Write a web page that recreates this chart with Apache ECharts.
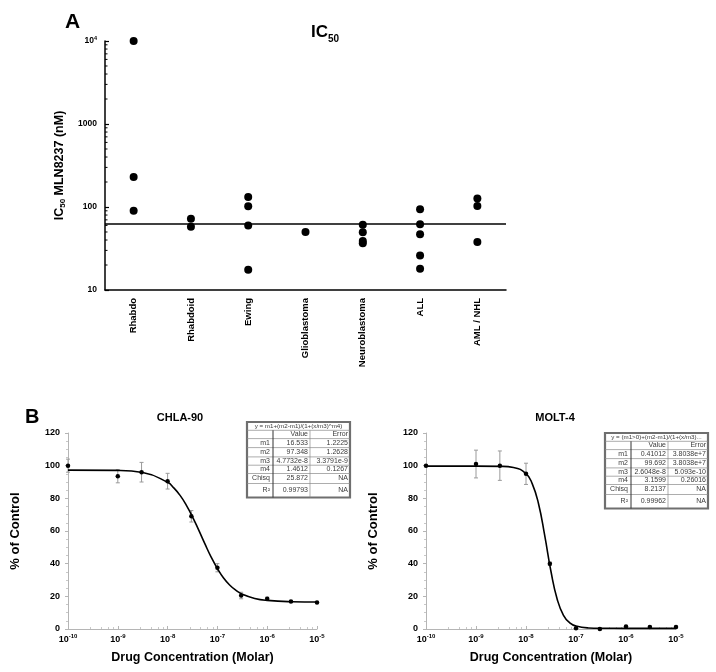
<!DOCTYPE html>
<html>
<head>
<meta charset="utf-8">
<script src="https://cdn.jsdelivr.net/npm/echarts@6/dist/echarts.min.js"></script>
<style>
  html, body { margin: 0; padding: 0; background: #fff; }
  #chart { width: 716px; height: 672px; }
</style>
</head>
<body>
<div id="chart"></div>
<script>
// panel A - IC50 per tumour panel (nM)
const categories = ["Rhabdo", "Rhabdoid", "Ewing", "Glioblastoma", "Neuroblastoma", "ALL", "AML / NHL"];
const ic50ByGroup = [
  [10000, 230, 90],
  [72, 58],
  [132, 102, 60, 17.5],
  [50],
  [61, 49.5, 39, 36.5],
  [94, 62, 47, 26, 18],
  [127, 103, 38]
];
const medianIC50 = 63;
const yMinorTicksA = [20, 30, 40, 50, 60, 70, 80, 90, 200, 300, 400, 500, 600, 700, 800, 900,
  2000, 3000, 4000, 5000, 6000, 7000, 8000, 9000];

// panel B - dose response (molar, % of control)
const concentrations = [1e-10, 1e-9, 3e-9, 1e-8, 3e-8, 1e-7, 3e-7, 1e-6, 3e-6, 1e-5];
const chlaMean = [100, 93.5, 96, 90.5, 69, 37.5, 20.5, 18.5, 16.8, 16.3];
const chlaErr = [4, 4, 6, 4.8, 3.5, 2.5, 2, 1, 0.5, 0.5];
const moltMean = [100, 101, 100, 95, 40, 0.5, 0, 1.5, 1.2, 1.2];
const moltErr = [0, 8.5, 9, 6.5, 1, 0.5, 0.5, 0.5, 0.5, 0.5];

// fitted curves
const chlaFitX = [1e-10, 1e-9, 3.16e-9, 1e-8, 1.33e-8, 1.78e-8, 2.37e-8, 3.16e-8, 4.22e-8, 5.62e-8,
  7.5e-8, 1e-7, 1.33e-7, 1.78e-7, 2.37e-7, 3.16e-7, 5.62e-7, 1e-6, 3.16e-6, 1e-5];
const chlaFitY = [97.3, 97.1, 95.8, 89.8, 86.4, 81.8, 75.9, 68.7, 60.5, 52.1,
  44.0, 37.0, 31.2, 26.8, 23.6, 21.3, 18.7, 17.5, 16.7, 16.5];
const moltFitX = [1e-10, 1e-9, 3.16e-9, 5.62e-9, 1e-8, 1.33e-8, 1.78e-8, 2.37e-8, 3.16e-8, 4.22e-8,
  5.62e-8, 7.5e-8, 1e-7, 1.78e-7, 3.16e-7, 1e-6, 1e-5];
const moltFitY = [99.7, 99.7, 99.56, 98.9, 95.1, 89.0, 76.7, 57.2, 35.2, 18.1,
  8.4, 3.8, 1.8, 0.64, 0.45, 0.41, 0.41];

// fit tables
const chlaTableTitle = "y = m1+(m2-m1)/(1+(x/m3)^m4)";
const moltTableTitle = "y = (m1>0)+(m2-m1)/(1+(x/m3)...";
const tableRowNames = ["m1", "m2", "m3", "m4", "Chisq", "R²"];
const chlaTableValues = ["16.533", "97.348", "4.7732e-8", "1.4612", "25.872", "0.99793"];
const chlaTableErrors = ["1.2225", "1.2628", "3.3791e-9", "0.1267", "NA", "NA"];
const moltTableValues = ["0.41012", "99.692", "2.6048e-8", "3.1599", "8.2137", "0.99962"];
const moltTableErrors = ["3.8038e+7", "3.8038e+7", "5.093e-10", "0.26016", "NA", "NA"];

const FONT = "Liberation Sans, Arial, Helvetica, sans-serif";

function buildTable(x0, y0, title, values, errors) {
  const colW = [26, 37, 40];
  const rowH = [8.3, 8.3, 9, 9.3, 8.3, 8.3, 10, 14];
  const w = colW[0] + colW[1] + colW[2];
  const h = rowH.reduce((a, b) => a + b, 0);
  const els = [];
  els.push({ type: "rect", shape: { x: x0, y: y0, width: w, height: h },
    style: { fill: "#fff", stroke: "#6f6f6f", lineWidth: 2.2 } });
  let y = y0;
  const rowTop = [];
  rowH.forEach((rh, i) => {
    rowTop.push(y);
    y += rh;
    if (i < rowH.length - 1) {
      els.push({ type: "line", shape: { x1: x0, y1: y, x2: x0 + w, y2: y },
        style: { stroke: "#8a8a8a", lineWidth: 0.7 } });
    }
  });
  const c1 = x0 + colW[0], c2 = c1 + colW[1];
  els.push({ type: "line", shape: { x1: c1, y1: y0 + rowH[0], x2: c1, y2: y0 + h },
    style: { stroke: "#333", lineWidth: 1 } });
  els.push({ type: "line", shape: { x1: c2, y1: y0 + rowH[0], x2: c2, y2: y0 + h },
    style: { stroke: "#8a8a8a", lineWidth: 0.7 } });
  const txt = (s, x, yy, align, size) => ({
    type: "text",
    style: { text: s, x: x, y: yy, align: align, verticalAlign: "middle",
      fontSize: size || 7, fontFamily: FONT, fill: "#3a3a3a" }
  });
  els.push(txt(title, x0 + w / 2, rowTop[0] + rowH[0] / 2, "center", 6.2));
  els.push(txt("Value", c2 - 2, rowTop[1] + rowH[1] / 2, "right"));
  els.push(txt("Error", x0 + w - 2, rowTop[1] + rowH[1] / 2, "right"));
  tableRowNames.forEach((n, i) => {
    const cy = rowTop[i + 2] + rowH[i + 2] / 2;
    els.push(txt(n, c1 - 3, cy, "right"));
    els.push(txt(values[i], c2 - 2, cy, "right"));
    els.push(txt(errors[i], x0 + w - 2, cy, "right"));
  });
  return { type: "group", z: 100, children: els };
}

const supRich = {
  b: { fontSize: 9, fontWeight: "bold", fontFamily: FONT, color: "#000", lineHeight: 13 },
  s: { fontSize: 6, fontWeight: "bold", fontFamily: FONT, color: "#000", lineHeight: 6, verticalAlign: "top" }
};
const powLabel = v => {
  const e = Math.round(Math.log10(v));
  return "{b|10}{s|" + e + "}";
};

function errorBarSeries(xi, yi, means, errs) {
  return {
    type: "custom",
    xAxisIndex: xi, yAxisIndex: yi,
    z: 2,
    silent: true,
    data: concentrations.map((c, i) => [c, means[i], errs[i]]),
    renderItem: function (params, api) {
      const x = api.value(0), m = api.value(1), e = api.value(2);
      if (!e) return null;
      const top = api.coord([x, m + e]);
      const bot = api.coord([x, m - e]);
      const st = { stroke: "#9a9a9a", lineWidth: 1 };
      return {
        type: "group",
        children: [
          { type: "line", shape: { x1: top[0], y1: top[1], x2: bot[0], y2: bot[1] }, style: st },
          { type: "line", shape: { x1: top[0] - 2, y1: top[1], x2: top[0] + 2, y2: top[1] }, style: st },
          { type: "line", shape: { x1: bot[0] - 2, y1: bot[1], x2: bot[0] + 2, y2: bot[1] }, style: st }
        ]
      };
    }
  };
}

function doseXAxis(gi) {
  return {
    gridIndex: gi, type: "log", logBase: 10, min: 1e-10, max: 1e-5,
    axisLine: { lineStyle: { color: "#b5b5b5", width: 1 } },
    axisTick: { inside: true, length: 3, lineStyle: { color: "#b5b5b5" } },
    minorTick: { show: true, splitNumber: 5, length: 2, lineStyle: { color: "#c8c8c8" } },
    splitLine: { show: false },
    axisLabel: { formatter: powLabel, rich: supRich, margin: 4 },
    name: "Drug Concentration (Molar)", nameLocation: "middle", nameGap: 22,
    nameTextStyle: { fontSize: 12.5, fontWeight: "bold", fontFamily: FONT, color: "#000" }
  };
}
function doseYAxis(gi) {
  return {
    gridIndex: gi, type: "value", min: 0, max: 120, interval: 20,
    axisLine: { show: true, lineStyle: { color: "#b5b5b5", width: 1 } },
    axisTick: { show: true, length: 3, lineStyle: { color: "#b5b5b5" } },
    minorTick: { show: true, splitNumber: 4, length: 2, lineStyle: { color: "#c8c8c8" } },
    splitLine: { show: false },
    axisLabel: { fontSize: 9, fontWeight: "bold", fontFamily: FONT, color: "#000", margin: 8 },
    name: "% of Control", nameLocation: "middle", nameGap: 46,
    nameTextStyle: { fontSize: 13, fontWeight: "bold", fontFamily: FONT, color: "#000" }
  };
}

const chart = echarts.init(document.getElementById("chart"), null, { renderer: "canvas" });

const option = {
  backgroundColor: "#fff",
  animation: false,
  title: [
    { text: "A", left: 60, top: 7, textStyle: { fontSize: 21, fontWeight: "bold", fontFamily: FONT, color: "#000" } },
    { text: "{m|IC}{s|50}", left: 306, top: 15,
      textStyle: { rich: {
        m: { fontSize: 17, fontWeight: "bold", fontFamily: FONT, color: "#000", lineHeight: 24 },
        s: { fontSize: 10, fontWeight: "bold", fontFamily: FONT, color: "#000", lineHeight: 10, verticalAlign: "bottom" }
      } } },
    { text: "B", left: 20, top: 402, textStyle: { fontSize: 20, fontWeight: "bold", fontFamily: FONT, color: "#000" } },
    { text: "CHLA-90", left: 175, top: 407, textAlign: "center",
      textStyle: { fontSize: 11, fontWeight: "bold", fontFamily: FONT, color: "#000" } },
    { text: "MOLT-4", left: 550, top: 407, textAlign: "center",
      textStyle: { fontSize: 11, fontWeight: "bold", fontFamily: FONT, color: "#000" } }
  ],
  grid: [
    { left: 105, top: 41, width: 401, height: 249, outerBoundsMode: "none" },
    { left: 68, top: 433, width: 249, height: 196, outerBoundsMode: "none" },
    { left: 426, top: 433, width: 250, height: 196, outerBoundsMode: "none" }
  ],
  xAxis: [
    {
      gridIndex: 0, type: "category", data: categories, boundaryGap: true,
      axisLine: { lineStyle: { color: "#000", width: 1.5 } },
      axisTick: { inside: true, length: 4, lineStyle: { color: "#000", width: 1.5 } },
      axisLabel: { rotate: 90, interval: 0, margin: 8, fontSize: 9.5, fontWeight: "bold", fontFamily: FONT, color: "#000" }
    },
    doseXAxis(1),
    doseXAxis(2)
  ],
  yAxis: [
    {
      gridIndex: 0, type: "log", logBase: 10, min: 10, max: 10000,
      axisLine: { show: true, lineStyle: { color: "#000", width: 1.5 } },
      axisTick: { show: true, inside: true, length: 4, lineStyle: { color: "#000", width: 1.2 } },
      splitLine: { show: false },
      axisLabel: {
        margin: 8,
        formatter: v => v >= 10000 ? "{b|10}{s|4}" : "{b|" + Math.round(v) + "}",
        rich: {
          b: { fontSize: 8.5, fontWeight: "bold", fontFamily: FONT, color: "#000", lineHeight: 12 },
          s: { fontSize: 5.5, fontWeight: "bold", fontFamily: FONT, color: "#000", lineHeight: 6, verticalAlign: "top" }
        }
      },
      name: "{m|IC}{s|50}{m| MLN8237 (nM)}", nameLocation: "middle", nameGap: 36,
      nameTextStyle: { rich: {
        m: { fontSize: 12.5, fontWeight: "bold", fontFamily: FONT, color: "#000", lineHeight: 16 },
        s: { fontSize: 8, fontWeight: "bold", fontFamily: FONT, color: "#000", lineHeight: 8, verticalAlign: "bottom" }
      } }
    },
    doseYAxis(1),
    doseYAxis(2)
  ],
  series: [
    {
      type: "scatter", xAxisIndex: 0, yAxisIndex: 0,
      symbolSize: 8, itemStyle: { color: "#000", opacity: 1 },
      data: ic50ByGroup.flatMap((vals, i) => vals.map(v => [i, v])),
      markLine: {
        silent: true, symbol: "none", label: { show: false },
        lineStyle: { color: "#000", width: 1.5, type: "solid" },
        data: [{ yAxis: medianIC50 }]
      }
    },
    {
      type: "custom", xAxisIndex: 0, yAxisIndex: 0, silent: true,
      data: yMinorTicksA.map(v => [0, v]),
      renderItem: function (params, api) {
        const p = api.coord([0, api.value(1)]);
        const left = params.coordSys.x;
        return { type: "line", shape: { x1: left, y1: p[1], x2: left + 2.5, y2: p[1] },
          style: { stroke: "#000", lineWidth: 1 } };
      }
    },
    {
      type: "line", xAxisIndex: 1, yAxisIndex: 1, smooth: true, showSymbol: false, silent: true,
      lineStyle: { color: "#000", width: 1.6 },
      data: chlaFitX.map((x, i) => [x, chlaFitY[i]])
    },
    errorBarSeries(1, 1, chlaMean, chlaErr),
    {
      type: "scatter", xAxisIndex: 1, yAxisIndex: 1, symbolSize: 4.5, z: 3,
      itemStyle: { color: "#000", opacity: 1 },
      data: concentrations.map((c, i) => [c, chlaMean[i]])
    },
    {
      type: "line", xAxisIndex: 2, yAxisIndex: 2, smooth: true, showSymbol: false, silent: true,
      lineStyle: { color: "#000", width: 1.6 },
      data: moltFitX.map((x, i) => [x, moltFitY[i]])
    },
    errorBarSeries(2, 2, moltMean, moltErr),
    {
      type: "scatter", xAxisIndex: 2, yAxisIndex: 2, symbolSize: 4.5, z: 3,
      itemStyle: { color: "#000", opacity: 1 },
      data: concentrations.map((c, i) => [c, moltMean[i]])
    }
  ],
  graphic: [
    buildTable(247, 422, chlaTableTitle, chlaTableValues, chlaTableErrors),
    buildTable(605, 433, moltTableTitle, moltTableValues, moltTableErrors)
  ]
};

chart.setOption(option);
</script>
</body>
</html>
